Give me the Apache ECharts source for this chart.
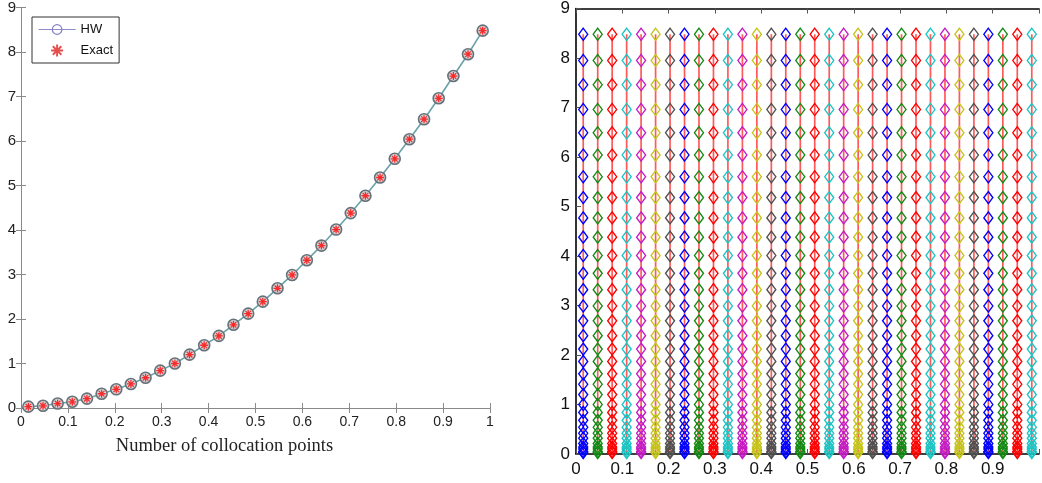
<!DOCTYPE html>
<html>
<head>
<meta charset="utf-8">
<script src="https://cdn.jsdelivr.net/npm/echarts@6/dist/echarts.min.js"></script>
<style>
    html, body { margin: 0; padding: 0; background: #fff; }
    #box { width: 1042px; height: 483px; }
</style>
</head>
<body>
<div id="box"></div>
<script>
// collocation points (x) and solution values
var xPoints = [0.0156, 0.0469, 0.0781, 0.1094, 0.1406, 0.1719, 0.2031, 0.2344,
    0.2656, 0.2969, 0.3281, 0.3594, 0.3906, 0.4219, 0.4531, 0.4844,
    0.5156, 0.5469, 0.5781, 0.6094, 0.6406, 0.6719, 0.7031, 0.7344,
    0.7656, 0.7969, 0.8281, 0.8594, 0.8906, 0.9219, 0.9531, 0.9844];
var hwValues = [0.03, 0.05, 0.10, 0.14, 0.21, 0.32, 0.42, 0.54,
    0.68, 0.84, 1.00, 1.20, 1.41, 1.62, 1.87, 2.12,
    2.39, 2.69, 2.99, 3.32, 3.65, 4.01, 4.38, 4.77,
    5.18, 5.60, 6.04, 6.49, 6.96, 7.46, 7.95, 8.48];
var exactValues = [0.03, 0.05, 0.10, 0.14, 0.21, 0.32, 0.42, 0.54,
    0.68, 0.84, 1.00, 1.20, 1.41, 1.62, 1.87, 2.12,
    2.39, 2.69, 2.99, 3.32, 3.65, 4.01, 4.38, 4.77,
    5.18, 5.60, 6.04, 6.49, 6.96, 7.46, 7.95, 8.48];
var seriesNames = ['HW', 'Exact'];
var xLabel = 'Number of collocation points';
var columnColors = ['#0000ff', '#138a13', '#ff0000', '#1cc4c4', '#c41cc4', '#c4c41c', '#505050'];

// MATLAB style '*' marker
var asterisk = 'path://M-1.6,-10L1.6,-10L1.6,10L-1.6,10Z M-10,-1.6L10,-1.6L10,1.6L-10,1.6Z ' +
    'M-8.2,-6L-6,-8.2L8.2,6L6,8.2Z M6,-8.2L8.2,-6L-6,8.2L-8.2,6Z';

var myChart = echarts.init(document.getElementById('box'), null, { renderer: 'canvas' });

function pairs(xs, ys) {
    var res = [];
    for (var i = 0; i < xs.length; i++) {
        res.push([xs[i], ys[i]]);
    }
    return res;
}

var greyLine = { show: true, lineStyle: { color: '#8a8a8a', width: 1 } };
var blackLine = { show: true, lineStyle: { color: '#000', width: 1.6 } };
var sans = 'Arial, "Liberation Sans"';

var xAxes = [
    {   // left panel bottom
        type: 'value', gridIndex: 0, min: 0, max: 1, interval: 0.1,
        axisLine: greyLine, splitLine: { show: false },
        axisTick: { inside: true, length: 5, lineStyle: { color: '#8a8a8a' } },
        axisLabel: { fontFamily: sans, fontSize: 14, color: '#222', margin: 7 },
        name: xLabel, nameLocation: 'middle', nameGap: 29,
        nameTextStyle: { fontFamily: '"Liberation Serif", "Times New Roman", serif', fontSize: 18.5, color: '#222', padding: [0, 62, 0, 0] }
    },
    {   // left panel top
        type: 'value', gridIndex: 0, position: 'top', min: 0, max: 1, interval: 0.1,
        axisLine: greyLine, splitLine: { show: false },
        axisTick: { inside: true, length: 5, lineStyle: { color: '#8a8a8a' } },
        axisLabel: { show: false }
    },
    {   // right panel bottom
        type: 'value', gridIndex: 1, min: 0, max: 1, interval: 0.1,
        axisLine: blackLine, splitLine: { show: false },
        axisTick: { inside: true, length: 5, lineStyle: { color: '#555' } },
        axisLabel: {
            fontFamily: sans, fontSize: 17, color: '#111', margin: 7,
            formatter: function (v) { return v >= 1 ? '' : String(v); }
        }
    },
    {   // right panel top
        type: 'value', gridIndex: 1, position: 'top', min: 0, max: 1, interval: 0.1,
        axisLine: blackLine, splitLine: { show: false },
        axisTick: { inside: true, length: 5, lineStyle: { color: '#555' } },
        axisLabel: { show: false }
    }
];

var yAxes = [
    {
        type: 'value', gridIndex: 0, min: 0, max: 9, interval: 1,
        axisLine: greyLine, splitLine: { show: false },
        axisTick: { inside: true, length: 5, lineStyle: { color: '#8a8a8a' } },
        axisLabel: { fontFamily: sans, fontSize: 15, color: '#222', margin: 5 }
    },
    {
        type: 'value', gridIndex: 0, position: 'right', min: 0, max: 9, interval: 1,
        axisLine: greyLine, splitLine: { show: false },
        axisTick: { inside: true, length: 5, lineStyle: { color: '#8a8a8a' } },
        axisLabel: { show: false }
    },
    {
        type: 'value', gridIndex: 1, min: 0, max: 9, interval: 1,
        axisLine: blackLine, splitLine: { show: false },
        axisTick: { inside: true, length: 5, lineStyle: { color: '#555' } },
        axisLabel: { fontFamily: sans, fontSize: 17, color: '#111', margin: 6 }
    }
];

var series = [
    {
        name: seriesNames[0], type: 'line', xAxisIndex: 0, yAxisIndex: 0,
        data: pairs(xPoints, hwValues),
        symbol: 'circle', symbolSize: 11, showSymbol: true,
        lineStyle: { color: '#6aa2a8', width: 1.6 },
        itemStyle: { color: '#d4d6d8', borderColor: '#66727a', borderWidth: 1.6 },
        z: 2
    },
    {
        name: seriesNames[1], type: 'scatter', xAxisIndex: 0, yAxisIndex: 0,
        data: pairs(xPoints, exactValues),
        symbol: asterisk, symbolSize: 8,
        itemStyle: { color: '#ff0000' },
        z: 3
    }
];

// right panel: one column of diamonds per collocation point
for (var i = 0; i < xPoints.length; i++) {
    var col = [];
    for (var j = 0; j < hwValues.length; j++) {
        col.push([xPoints[i], hwValues[j]]);
    }
    var c = columnColors[i % columnColors.length];
    series.push({
        type: 'line', xAxisIndex: 2, yAxisIndex: 2,
        data: col,
        symbol: 'diamond', symbolSize: [9, 12], showSymbol: true,
        lineStyle: { color: '#ff3030', width: 1.7, opacity: 0.8 },
        itemStyle: { color: 'rgba(255,255,255,0)', borderColor: c, borderWidth: 1.4 },
        emphasis: { disabled: true }
    });
}

myChart.setOption({
    animation: false,
    grid: [
        { left: 21, right: 552, top: 5, bottom: 75 },
        { left: 576, right: -2, top: 8, bottom: 29 }
    ],
    legend: {
        data: [
            {
                name: seriesNames[0],
                itemStyle: { color: 'rgba(255,255,255,0)', borderColor: '#8080c8', borderWidth: 1.2 },
                lineStyle: { color: '#8c8cc8', width: 1.2 }
            },
            { name: seriesNames[1], itemStyle: { color: '#e02020' } }
        ],
        orient: 'vertical',
        left: 32, top: 17,
        padding: [6, 6, 6, 6],
        itemGap: 8,
        itemWidth: 37, itemHeight: 12,
        borderColor: '#333', borderWidth: 1,
        backgroundColor: '#fff',
        textStyle: { fontFamily: sans, fontSize: 13, color: '#111', padding: [0, 4, 0, 0] }
    },
    xAxis: xAxes,
    yAxis: yAxes,
    series: series
});
</script>
</body>
</html>
